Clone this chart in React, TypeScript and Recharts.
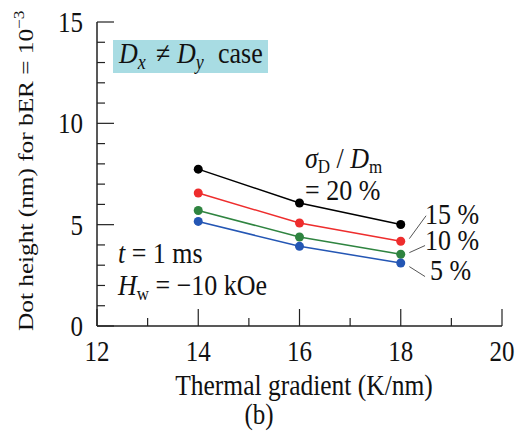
import { LineChart, Line, XAxis, YAxis, ReferenceLine } from 'recharts';

// thermal gradient (K/nm) and dot height (nm) for each sigma_D / D_m
const gradients = [14, 16, 18];
const sigma20 = [7.74, 6.07, 5.01];
const sigma15 = [6.56, 5.08, 4.18];
const sigma10 = [5.7, 4.39, 3.54];
const sigma5 = [5.16, 3.93, 3.11];

const xTicks = [12, 13, 14, 15, 16, 17, 18, 19, 20];
const xLabels = [12, 14, 16, 18, 20];
const yTicks = [0, 1, 2, 3, 4, 5, 6, 7, 8, 9, 10, 11, 12, 13, 14, 15];
const yLabels = [0, 5, 10, 15];

const series = [
  { key: 's20', color: '#000000' },
  { key: 's15', color: '#ee2d2d' },
  { key: 's10', color: '#2f8440' },
  { key: 's5', color: '#2456b4' },
];

const data = gradients.map((g, i) => ({
  g,
  s20: sigma20[i],
  s15: sigma15[i],
  s10: sigma10[i],
  s5: sigma5[i],
}));

const FONT = '"Liberation Serif", "Times New Roman", serif';
const AXIS = '#222';
const MAJOR = 17;
const MINOR = 8;
const SY = 1.15; // the original figure is a little stretched vertically

function T({ x, y, size = 26, anchor = 'start', rotate = false, children }: any) {
  const tr = `translate(${x},${y}) scale(1,${SY})${rotate ? ' rotate(-90)' : ''}`;
  return (
    <text transform={tr} fontSize={size} textAnchor={anchor} fontFamily={FONT} fill="#111">
      {children}
    </text>
  );
}

function BottomTick({ x, y, payload }: any) {
  const major = xLabels.includes(payload.value);
  return (
    <g>
      <line x1={x} y1={y} x2={x} y2={y - (major ? MAJOR : MINOR)} stroke={AXIS} strokeWidth={1.2} />
      {major && (
        <T x={x} y={y + 35} size={25} anchor="middle">
          {payload.value}
        </T>
      )}
    </g>
  );
}

function TopTick({ x, y, payload }: any) {
  const major = xLabels.includes(payload.value);
  return <line x1={x} y1={y} x2={x} y2={y + (major ? MAJOR : MINOR)} stroke={AXIS} strokeWidth={1.2} />;
}

function LeftTick({ x, y, payload }: any) {
  const major = yLabels.includes(payload.value);
  return (
    <g>
      <line x1={x} y1={y} x2={x + (major ? MAJOR : MINOR)} y2={y} stroke={AXIS} strokeWidth={1.2} />
      {major && (
        <T x={x - 14} y={y + 10} size={25} anchor="end">
          {payload.value}
        </T>
      )}
    </g>
  );
}

function RightTick({ x, y, payload }: any) {
  const major = yLabels.includes(payload.value);
  return <line x1={x} y1={y} x2={x - (major ? MAJOR : MINOR)} y2={y} stroke={AXIS} strokeWidth={1.2} />;
}

const leader = { stroke: '#555', strokeWidth: 1 };

export default function App() {
  return (
    <div style={{ position: 'absolute', left: 0, top: 0, width: 525, height: 432, background: '#fff' }}>
      <LineChart width={525} height={432} data={data} margin={{ top: 22, right: 23, bottom: 0, left: 0 }}>
        <XAxis
          dataKey="g"
          type="number"
          domain={[12, 20]}
          ticks={xTicks}
          interval={0}
          height={106}
          tickSize={0}
          tickMargin={0}
          tickLine={false}
          axisLine={{ stroke: AXIS, strokeWidth: 1.5 }}
          tick={<BottomTick />}
        />
        <XAxis
          xAxisId="top"
          orientation="top"
          type="number"
          domain={[12, 20]}
          ticks={xTicks}
          interval={0}
          height={0}
          tickSize={0}
          tickMargin={0}
          tickLine={false}
          axisLine={{ stroke: AXIS, strokeWidth: 1.5 }}
          tick={<TopTick />}
        />
        <YAxis
          type="number"
          domain={[0, 15]}
          ticks={yTicks}
          interval={0}
          width={97}
          tickSize={0}
          tickMargin={0}
          tickLine={false}
          axisLine={{ stroke: AXIS, strokeWidth: 1.5 }}
          tick={<LeftTick />}
        />
        <YAxis
          yAxisId="right"
          orientation="right"
          type="number"
          domain={[0, 15]}
          ticks={yTicks}
          interval={0}
          width={0}
          tickSize={0}
          tickMargin={0}
          tickLine={false}
          axisLine={{ stroke: AXIS, strokeWidth: 1.5 }}
          tick={<RightTick />}
        />
        <ReferenceLine segment={[{ x: 18.17, y: 4.31 }, { x: 18.5, y: 5.44 }]} {...leader} />
        <ReferenceLine segment={[{ x: 18.17, y: 3.62 }, { x: 18.48, y: 3.97 }]} {...leader} />
        <ReferenceLine segment={[{ x: 18.17, y: 2.93 }, { x: 18.48, y: 2.44 }]} {...leader} />
        {series.map((s) => (
          <Line
            key={s.key}
            dataKey={s.key}
            stroke={s.color}
            strokeWidth={1.5}
            dot={{ r: 4.5, fill: s.color, stroke: s.color, strokeWidth: 0 }}
            isAnimationActive={false}
          />
        ))}
      </LineChart>

      <svg
        width={525}
        height={432}
        style={{ position: 'absolute', left: 0, top: 0, pointerEvents: 'none' }}
      >
        <rect x={113} y={40} width={155} height={33} fill="#a8dce3" />
        <T x={119} y={63} size={26}>
          <tspan fontStyle="italic">D</tspan>
          <tspan fontStyle="italic" fontSize={18} dy={5}>x</tspan>
          <tspan x={37} dy={-5}>≠</tspan>
          <tspan x={58} fontStyle="italic">D</tspan>
          <tspan fontStyle="italic" fontSize={18} dy={5}>y</tspan>
          <tspan x={99} dy={-5}>case</tspan>
        </T>

        <T x={305} y={168} size={26}>
          <tspan fontStyle="italic">σ</tspan>
          <tspan fontSize={17} dy={4}>D</tspan>
          <tspan dy={-4}> / </tspan>
          <tspan fontStyle="italic">D</tspan>
          <tspan fontSize={17} dy={4}>m</tspan>
        </T>
        <T x={305} y={200}>= 20 %</T>
        <T x={425} y={224}>15 %</T>
        <T x={425} y={250}>10 %</T>
        <T x={430} y={280}>5 %</T>

        <T x={118} y={263}>
          <tspan fontStyle="italic">t</tspan> = 1 ms
        </T>
        <T x={118} y={295}>
          <tspan fontStyle="italic">H</tspan>
          <tspan fontSize={17} dy={4}>w</tspan>
          <tspan dy={-4}> = −10 kOe</tspan>
        </T>

        <T x={33} y={331} size={22} rotate>
          Dot height (nm) for bER = 10
          <tspan fontSize={15} dy={-9}>−3</tspan>
        </T>
        <T x={304} y={395} size={25.5} anchor="middle">Thermal gradient (K/nm)</T>
        <T x={259} y={424} size={25} anchor="middle">(b)</T>
      </svg>
    </div>
  );
}
